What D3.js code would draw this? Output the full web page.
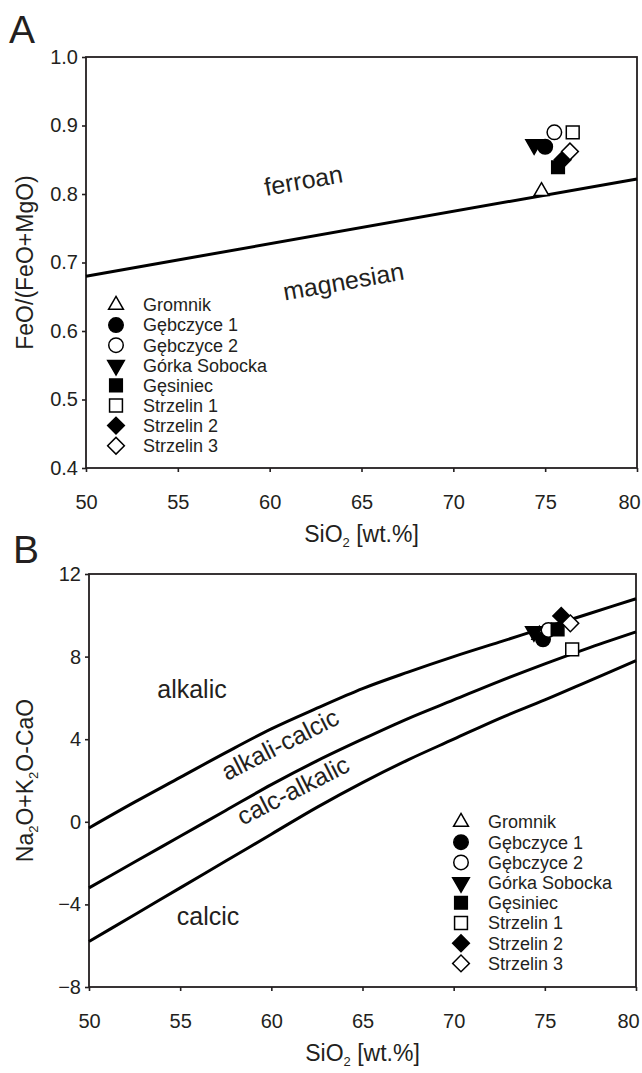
<!DOCTYPE html>
<html>
<head>
<meta charset="utf-8">
<script src="https://cdn.jsdelivr.net/npm/d3@7"></script>
<style>
body { margin: 0; background: #fff; }
svg text { font-family: "Liberation Sans", Arial, sans-serif; fill: #231f20; }
.axis line { stroke: #231f20; stroke-width: 1.6; }
</style>
</head>
<body>
<div id="chart"></div>
<script>
// sample groups, legend order
var samples = ['Gromnik', 'Gębczyce 1', 'Gębczyce 2', 'Górka Sobocka',
	'Gęsiniec', 'Strzelin 1', 'Strzelin 2', 'Strzelin 3'];

// panel A: SiO2 vs FeO/(FeO+MgO)
var feSiO2  = [74.8, 75.0, 75.5, 74.4, 75.7, 76.5, 75.95, 76.35];
var feRatio = [0.804, 0.869, 0.890, 0.872, 0.839, 0.890, 0.850, 0.862];
var ferroanSiO2  = [50, 80];
var ferroanRatio = [0.680, 0.822];

// panel B: SiO2 vs Na2O+K2O-CaO
var maliSiO2  = [74.7, 74.9, 75.2, 74.4, 75.7, 76.5, 75.9, 76.4];
var maliValue = [9.05, 8.84, 9.29, 9.21, 9.32, 8.35, 9.97, 9.61];
var curveSiO2        = [50, 52.5, 55, 57.5, 60, 62.5, 65, 67.5, 70, 72.5, 75, 77.5, 80];
var alkalicLine      = [-0.3, 0.95, 2.15, 3.35, 4.5, 5.5, 6.45, 7.25, 8.0, 8.7, 9.4, 10.1, 10.8];
var alkaliCalcicLine = [-3.2, -1.95, -0.7, 0.55, 1.8, 2.95, 4.0, 5.0, 5.9, 6.8, 7.65, 8.45, 9.2];
var calcAlkalicLine  = [-5.8, -4.5, -3.2, -1.9, -0.6, 0.7, 1.9, 3.0, 4.0, 5.0, 5.9, 6.85, 7.8];

// ticks
var siTicks   = [50, 55, 60, 65, 70, 75, 80];
var feTicks   = [0.4, 0.5, 0.6, 0.7, 0.8, 0.9, 1.0];
var maliTicks = [-8, -4, 0, 4, 8, 12];

var svgWidth = 642,
	svgHeight = 1073;

var svg = d3.select('#chart')
	.append('svg')
	.attr('width', svgWidth)
	.attr('height', svgHeight);

// marker look for each sample (same order as samples)
var markers = [
	{shape: d3.symbolTriangle, size: 95,  fill: false, rot: 0},
	{shape: d3.symbolCircle,   size: 165, fill: true,  rot: 0},
	{shape: d3.symbolCircle,   size: 165, fill: false, rot: 0},
	{shape: d3.symbolTriangle, size: 120, fill: true,  rot: 180},
	{shape: d3.symbolSquare,   size: 160, fill: true,  rot: 0},
	{shape: d3.symbolSquare,   size: 165, fill: false, rot: 0},
	{shape: d3.symbolSquare,   size: 140, fill: true,  rot: 45},
	{shape: d3.symbolSquare,   size: 140, fill: false, rot: 45}
];

function drawMarker(g, i, px, py) {
	var m = markers[i];
	g.append('path')
		.attr('d', d3.symbol(m.shape, m.size)())
		.attr('transform', `translate(${px},${py}) rotate(${m.rot})`)
		.attr('fill', m.fill ? '#000' : '#fff')
		.attr('stroke', '#000')
		.attr('stroke-width', 1.5);
}

function drawAxes(g, x, y, w, h, yTicks, yFmt) {
	var xa = g.append('g')
		.attr('class', 'axis')
		.attr('transform', `translate(0,${h})`)
		.call(d3.axisBottom(x).tickValues(siTicks).tickSize(4).tickSizeOuter(0).tickPadding(23));
	var ya = g.append('g')
		.attr('class', 'axis')
		.call(d3.axisLeft(y).tickValues(yTicks).tickFormat(yFmt).tickSize(4).tickSizeOuter(0).tickPadding(4));
	[xa, ya].forEach(a => {
		a.select('.domain').remove();
		a.attr('font-size', 20);
	});
	// last label sits a bit inside the frame edge
	xa.selectAll('.tick text').filter(d => d === 80).attr('dx', -8);
	g.append('rect')
		.attr('width', w)
		.attr('height', h)
		.attr('fill', 'none')
		.attr('stroke', '#231f20')
		.attr('stroke-width', 1.8);
}

// text with subscripts: parts = [[text, isSub], ...]
function subText(sel, parts, subSize) {
	var shifted = false;
	parts.forEach(p => {
		var t = sel.append('tspan').text(p[0]);
		if (p[1]) {
			t.attr('font-size', subSize).attr('dy', 5);
			shifted = true;
		} else if (shifted) {
			t.attr('dy', -5);
			shifted = false;
		}
	});
}

function drawLegend(g, lx, ly, step) {
	samples.forEach((s, i) => {
		drawMarker(g, i, lx, ly + i * step);
		g.append('text')
			.attr('x', lx + 27)
			.attr('y', ly + i * step)
			.attr('dy', '0.35em')
			.attr('font-size', 18)
			.text(s);
	});
}

// =================================================================
// Panel A
// =================================================================
var mA = {l: 86, t: 57, r: 637, b: 468};
var wA = mA.r - mA.l, hA = mA.b - mA.t;
var gA = svg.append('g').attr('transform', `translate(${mA.l},${mA.t})`);

var xA = d3.scaleLinear().domain([50, 80]).range([0, wA]);
var yA = d3.scaleLinear().domain([0.4, 1.0]).range([hA, 0]);

drawAxes(gA, xA, yA, wA, hA, feTicks, d3.format('.1f'));

gA.append('path')
	.datum(d3.zip(ferroanSiO2, ferroanRatio))
	.attr('d', d3.line().x(d => xA(d[0])).y(d => yA(d[1])))
	.attr('fill', 'none')
	.attr('stroke', '#000')
	.attr('stroke-width', 3);

gA.append('text')
	.attr('transform', `translate(${305 - mA.l},${189 - mA.t}) rotate(-10)`)
	.attr('text-anchor', 'middle')
	.attr('font-size', 25)
	.text('ferroan');
gA.append('text')
	.attr('transform', `translate(${345 - mA.l},${290 - mA.t}) rotate(-10)`)
	.attr('text-anchor', 'middle')
	.attr('font-size', 25)
	.text('magnesian');

samples.forEach((s, i) => drawMarker(gA, i, xA(feSiO2[i]), yA(feRatio[i])));

drawLegend(gA, 116 - mA.l, 305 - mA.t, 20.1);

svg.append('text')
	.attr('transform', `translate(25,${(mA.t + mA.b) / 2}) rotate(-90)`)
	.attr('text-anchor', 'middle')
	.attr('dy', '0.35em')
	.attr('font-size', 23)
	.text('FeO/(FeO+MgO)');

subText(svg.append('text')
	.attr('x', (mA.l + mA.r) / 2)
	.attr('y', 542)
	.attr('text-anchor', 'middle')
	.attr('font-size', 23),
	[['SiO'], ['2', true], [' [wt.%]']], 13);

svg.append('text')
	.attr('x', 9)
	.attr('y', 43)
	.attr('font-size', 39)
	.text('A');

// =================================================================
// Panel B
// =================================================================
var mB = {l: 89, t: 574, r: 636, b: 987};
var wB = mB.r - mB.l, hB = mB.b - mB.t;
var gB = svg.append('g').attr('transform', `translate(${mB.l},${mB.t})`);

var xB = d3.scaleLinear().domain([50, 80]).range([0, wB]);
var yB = d3.scaleLinear().domain([-8, 12]).range([hB, 0]);

drawAxes(gB, xB, yB, wB, hB, maliTicks, d3.format('d'));

var curveLine = d3.line()
	.x(d => xB(d[0]))
	.y(d => yB(d[1]))
	.curve(d3.curveMonotoneX);

[alkalicLine, alkaliCalcicLine, calcAlkalicLine].forEach(c => {
	gB.append('path')
		.datum(d3.zip(curveSiO2, c))
		.attr('d', curveLine)
		.attr('fill', 'none')
		.attr('stroke', '#000')
		.attr('stroke-width', 3);
});

gB.append('text')
	.attr('x', 192 - mB.l)
	.attr('y', 698 - mB.t)
	.attr('text-anchor', 'middle')
	.attr('font-size', 25)
	.text('alkalic');
gB.append('text')
	.attr('x', 208 - mB.l)
	.attr('y', 925 - mB.t)
	.attr('text-anchor', 'middle')
	.attr('font-size', 25)
	.text('calcic');
gB.append('text')
	.attr('transform', `translate(${284 - mB.l},${752 - mB.t}) rotate(-27)`)
	.attr('text-anchor', 'middle')
	.attr('font-size', 25)
	.text('alkali-calcic');
gB.append('text')
	.attr('transform', `translate(${297 - mB.l},${798 - mB.t}) rotate(-27)`)
	.attr('text-anchor', 'middle')
	.attr('font-size', 25)
	.text('calc-alkalic');

samples.forEach((s, i) => drawMarker(gB, i, xB(maliSiO2[i]), yB(maliValue[i])));

drawLegend(gB, 461 - mB.l, 822 - mB.t, 20.2);

subText(svg.append('text')
	.attr('transform', `translate(25,${(mB.t + mB.b) / 2}) rotate(-90)`)
	.attr('text-anchor', 'middle')
	.attr('dy', '0.35em')
	.attr('font-size', 23),
	[['Na'], ['2', true], ['O+K'], ['2', true], ['O-CaO']], 13);

subText(svg.append('text')
	.attr('x', (mB.l + mB.r) / 2)
	.attr('y', 1061)
	.attr('text-anchor', 'middle')
	.attr('font-size', 23),
	[['SiO'], ['2', true], [' [wt.%]']], 13);

svg.append('text')
	.attr('x', 13)
	.attr('y', 563)
	.attr('font-size', 39)
	.text('B');
</script>
</body>
</html>
